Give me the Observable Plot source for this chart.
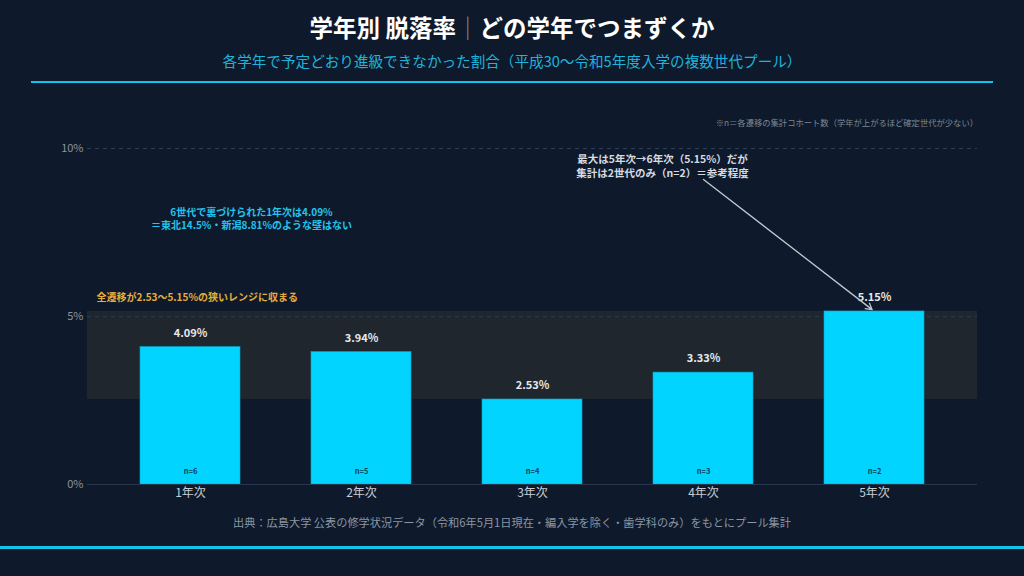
<!DOCTYPE html>
<html><head><meta charset="utf-8">
<script src="https://cdn.jsdelivr.net/npm/d3@7"></script>
<script src="https://cdn.jsdelivr.net/npm/@observablehq/plot@0.6"></script>
<style>
html,body{margin:0;padding:0;background:#0e1a2b;width:1024px;height:576px;overflow:hidden;font-family:"Noto Sans CJK JP","Noto Sans",sans-serif;}
#wrap{position:relative;width:1024px;height:576px;}
.abs{position:absolute;white-space:nowrap;}
#title{top:10px;left:0;width:1024px;text-align:center;color:#fff;font-size:23.5px;font-weight:700;}
#title .sep{color:#8a96a6;font-weight:300;}
#sub{top:50px;left:0;width:1024px;text-align:center;color:#1fb3dc;font-size:14.6px;}
#div{top:81px;left:31px;width:962px;height:2px;background:#12c3ea;}
#note{top:116px;right:46px;color:#7c8794;font-size:8.3px;}
#chart{top:90px;left:0;}
#cap{top:514px;left:0;width:1024px;text-align:center;color:#8b95a3;font-size:11.2px;}
#bot{top:546px;left:0;width:1024px;height:3px;background:#12c3ea;}
</style></head>
<body><div id="wrap">
<div id="title" class="abs">学年別 脱落率<span class="sep">｜</span>どの学年でつまずくか</div>
<div id="sub" class="abs">各学年で予定どおり進級できなかった割合（平成30〜令和5年度入学の複数世代プール）</div>
<div id="div" class="abs"></div>
<div id="note" class="abs">※n＝各遷移の集計コホート数（学年が上がるほど確定世代が少ない）</div>
<div id="chart" class="abs"></div>
<div id="cap" class="abs">出典：広島大学 公表の修学状況データ（令和6年5月1日現在・編入学を除く・歯学科のみ）をもとにプール集計</div>
<div id="bot" class="abs"></div>
</div>
<script>
const grades = ["1年次","2年次","3年次","4年次","5年次"];
const rates = [4.09, 3.94, 2.53, 3.33, 5.15];
const cohorts = [6, 5, 4, 3, 2];
const yTicks = [0, 5, 10];
const noteCyan = "6世代で裏づけられた1年次は4.09%\n＝東北14.5%・新潟8.81%のような壁はない";
const noteGold = "全遷移が2.53〜5.15%の狭いレンジに収まる";
const noteMax = "最大は5年次→6年次（5.15%）だが\n集計は2世代のみ（n=2）＝参考程度";

const data = grades.map((g, i) => ({grade: g, rate: rates[i], n: cohorts[i]}));
const lo = d3.min(rates), hi = d3.max(rates);
const font = "Noto Sans CJK JP";

const plot = Plot.plot({
  width: 1024, height: 420,
  marginLeft: 87, marginRight: 47, marginTop: 58, marginBottom: 26,
  style: {background: "transparent", fontFamily: font},
  x: {domain: grades, paddingInner: 0.417, paddingOuter: 0.303, label: null},
  y: {domain: [0, 10], label: null},
  marks: [
    Plot.rect([{}], {y1: lo, y2: hi, fill: "#1f262e"}),
    Plot.ruleY([5, 10], {stroke: "#2c3b55", strokeDasharray: "4,4", strokeWidth: 1}),
    Plot.barY(data, {x: "grade", y: "rate", fill: "#00d4ff", stroke: "#0aa6c8", strokeWidth: 0.6}),
    Plot.ruleY([0], {stroke: "#2a3550", strokeWidth: 1.2}),
    Plot.axisY({ticks: yTicks, tickFormat: d => d + "%", tickSize: 0, tickPadding: 4, fill: "#8a94a0", fontSize: 11}),
    Plot.axisX({tickSize: 0, tickPadding: 4, fill: "#c9cdd2", fontSize: 12}),
    Plot.text(data, {x: "grade", y: "rate", text: d => d.rate.toFixed(2) + "%", dy: -14, fill: "#e6e8ea", fontSize: 11, fontWeight: 700}),
    Plot.text(data, {x: "grade", y: 0, text: d => "n=" + d.n, dy: -13, fill: "#0b4460", fontSize: 7.5, fontWeight: 700}),
    Plot.text([noteCyan], {x: () => grades[0], y: () => 7.92, text: d => d, dx: 61, fill: "#22c4ee", fontSize: 10, fontWeight: 700, lineHeight: 1.32}),
    Plot.text([noteGold], {frameAnchor: "left", y: () => 5.57, text: d => d, dx: 9, textAnchor: "start", fill: "#e5ad3a", fontSize: 10, fontWeight: 700}),
    Plot.text([noteMax], {x: () => grades[3], y: () => 9.49, text: d => d, dx: -41, fill: "#d6dbe0", fontSize: 10.5, fontWeight: 700, lineHeight: 1.3}),
    Plot.arrow([{}], {x1: () => grades[3], y1: () => 9.08, x2: () => grades[4], y2: () => hi, insetEnd: 3, stroke: "#c2c8cf", strokeWidth: 1.3, headLength: 8, bend: 0})
  ]
});
document.getElementById("chart").appendChild(plot);
</script>
</body></html>
